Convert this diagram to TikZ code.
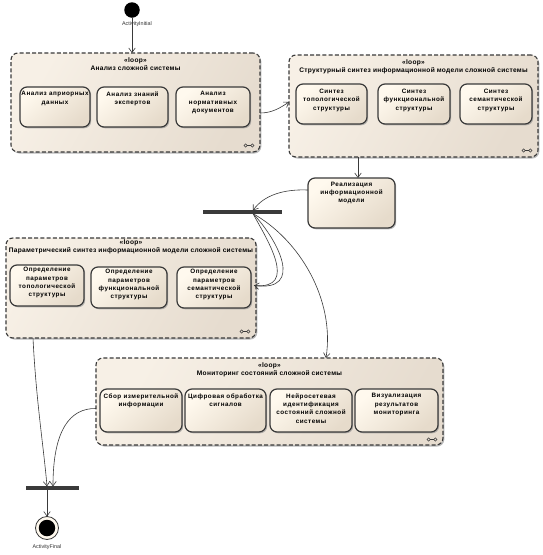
\documentclass[tikz,border=0pt]{standalone}
\usepackage{fontspec}
\setmainfont{Liberation Sans}
\usetikzlibrary{arrows.meta,shadows,calc}
\definecolor{edge}{HTML}{3A3A3A}
\definecolor{loopA}{HTML}{F7F0E6}
\definecolor{loopB}{HTML}{E6DCCF}
\definecolor{boxA}{HTML}{FFF9EE}
\definecolor{boxB}{HTML}{E6DBCB}
\tikzset{
  loopmark/.pic={\draw[edge,line width=0.6pt] (-3.4,0) circle (1.6pt) (3.4,0) circle (1.6pt) (-1.8,0)--(1.8,0);}
}
\begin{document}
\begin{tikzpicture}[x=1pt,y=-1pt,
  every node/.style={inner sep=0pt,outer sep=0pt},
  loopbox/.style={draw=edge, line width=1.1pt, dash pattern=on 4pt off 2.2pt,
     rounded corners=7pt, top color=loopA, bottom color=loopB, shading angle=60,
     drop shadow={shadow xshift=1.3pt,shadow yshift=-1.5pt,fill=black!45,opacity=.6},
     anchor=north west},
  actbox/.style={draw=edge, line width=1.2pt, rounded corners=7pt,
     top color=boxA, bottom color=boxB, shading angle=40,
     drop shadow={shadow xshift=1.2pt,shadow yshift=-1.3pt,fill=black!45,opacity=.6},
     anchor=north west},
  ttl/.style={font=\bfseries\fontsize{6.6}{8.2}\selectfont\addfontfeatures{LetterSpace=4}, align=center, text=black},
  btxt/.style={font=\bfseries\fontsize{6.3}{8.3}\selectfont\addfontfeatures{LetterSpace=8}, align=center, text=black},
  small/.style={font=\fontsize{5.4}{6}\selectfont, text=black!80},
  barnode/.style={fill=edge, minimum height=3.2pt, anchor=west},
  arr/.style={draw=edge, line width=0.6pt, -{Straight Barb[length=4.5pt,width=6.5pt]}},
  plain/.style={draw=edge, line width=0.6pt}
]
\fill[white] (0,0) rectangle (543,555);
\useasboundingbox (0,0) rectangle (543,555);

% initial / final
\node[circle, fill=black, minimum size=15.5pt] (init) at (132,10) {};
\node[small] (initlbl) at (137,24) {ActivityInitial};

% loop 1
\node[loopbox, minimum width=249pt, minimum height=99pt,
  label={[ttl,anchor=north,yshift=-5pt]north:{«loop»\\Анализ сложной системы}}] (L1) at (11,53) {};
\node[actbox, minimum width=70pt, minimum height=40pt,
  label={[btxt,anchor=north,yshift=-4.5pt]north:{Анализ априорных\\данных}}] (A1) at (20,87) {};
\node[actbox, minimum width=71pt, minimum height=40pt,
  label={[btxt,anchor=north,yshift=-4.5pt]north:{Анализ знаний\\экспертов}}] (A2) at (97,87) {};
\node[actbox, minimum width=74pt, minimum height=40pt,
  label={[btxt,anchor=north,yshift=-4.5pt]north:{Анализ\\нормативных\\документов}}] (A3) at (176,87) {};
\pic at ($(L1.south east)+(-11,-6.5)$) {loopmark};

% loop 2
\node[loopbox, minimum width=249pt, minimum height=102pt,
  label={[ttl,anchor=north,yshift=-5pt]north:{«loop»\\Структурный синтез информационной модели сложной системы}}] (L2) at (289,55) {};
\node[actbox, minimum width=71pt, minimum height=40pt,
  label={[btxt,anchor=north,yshift=-5pt]north:{Синтез\\топологической\\структуры}}] (S1) at (296,84) {};
\node[actbox, minimum width=72pt, minimum height=40pt,
  label={[btxt,anchor=north,yshift=-5pt]north:{Синтез\\функциональной\\структуры}}] (S2) at (378,84) {};
\node[actbox, minimum width=72pt, minimum height=40pt,
  label={[btxt,anchor=north,yshift=-5pt]north:{Синтез\\семантической\\структуры}}] (S3) at (460,84) {};
\pic at ($(L2.south east)+(-11,-6.5)$) {loopmark};

% realization
\node[actbox, minimum width=87pt, minimum height=50pt,
  label={[btxt,anchor=north,yshift=-4pt]north:{Реализация\\информационной\\модели}}] (real) at (308,178) {};

% param loop
\node[loopbox, minimum width=250pt, minimum height=100pt,
  label={[ttl,anchor=north,yshift=-2pt]north:{«loop»\\Параметрический синтез информационной модели сложной системы}}] (Pl) at (6,238) {};
\node[actbox, minimum width=74pt, minimum height=41pt,
  label={[btxt,anchor=north,yshift=-2.5pt]north:{Определение\\параметров\\топологической\\структуры}}] (P1) at (10,265) {};
\node[actbox, minimum width=76pt, minimum height=41pt,
  label={[btxt,anchor=north,yshift=-2.5pt]north:{Определение\\параметров\\функциональной\\структуры}}] (P2) at (91,267) {};
\node[actbox, minimum width=74pt, minimum height=41pt,
  label={[btxt,anchor=north,yshift=-2.5pt]north:{Определение\\параметров\\семантической\\структуры}}] (P3) at (177,267) {};
\pic at ($(Pl.south east)+(-11,-6.5)$) {loopmark};

% monitoring loop
\node[loopbox, minimum width=347pt, minimum height=87pt,
  label={[ttl,anchor=north,yshift=-5pt]north:{«loop»\\Мониторинг состояний сложной системы}}] (Mon) at (96,358) {};
\node[actbox, minimum width=82pt, minimum height=43pt,
  label={[btxt,anchor=north,yshift=-4.5pt]north:{Сбор измерительной\\информации}}] (M1) at (100,389) {};
\node[actbox, minimum width=81pt, minimum height=43pt,
  label={[btxt,anchor=north,yshift=-4.5pt]north:{Цифровая обработка\\сигналов}}] (M2) at (185,389) {};
\node[actbox, minimum width=82pt, minimum height=43pt,
  label={[btxt,anchor=north,yshift=-4.5pt]north:{Нейросетевая\\идентификация\\состояний сложной\\системы}}] (M3) at (270,389) {};
\node[actbox, minimum width=83pt, minimum height=43pt,
  label={[btxt,anchor=north,yshift=-4.5pt]north:{Визуализация\\результатов\\мониторинга}}] (M4) at (355,389) {};
\pic at ($(Mon.south east)+(-11,-5.5)$) {loopmark};

% bars
\node[barnode, minimum width=79pt] (fork) at (203,212) {};
\node[barnode, minimum width=53pt] (join) at (26,488) {};

% final
\node[circle, draw=edge, line width=0.8pt, fill=boxA, minimum size=23pt] (fin) at (47,528) {};
\node[circle, fill=black, minimum size=16.5pt] (fincore) at (fin) {};
\node[small] (finlbl) at (47,547) {ActivityFinal};

% helper coordinates on node borders
\coordinate (fktop) at ($(fork.north west)+(50,0)$);
\coordinate (fkbot) at ($(fork.south west)+(50,0)$);
\coordinate (p3in) at ($(P3.east)+(3,-2)$);
\coordinate (mtip) at ($(Mon.north west)+(230,0)$);
\coordinate (rin) at ($(real.north west)+(50,0)$);
\coordinate (jA) at ($(join.north west)+(21,0)$);
\coordinate (jB) at ($(join.north west)+(27,0)$);

% connectors
\draw[arr] (init.south) -- (init.south |- L1.north);
\draw[arr] ($(L1.east)+(0,10.5)$) .. controls (272,113) and (280,108) .. ($(L2.west)+(0,-4)$);
\draw[arr] (rin |- L2.south) -- (rin);
\draw[arr] ($(real.north west)+(0,12)$) .. controls (284,189) and (264,195) .. (fktop);
\draw[plain] (fkbot) .. controls (266,238) and (300,290) .. (p3in);
\draw[arr] (fkbot) .. controls (278,240) and (305,292) .. (p3in);
\draw[arr] (fkbot) .. controls (300,240) and (335,300) .. (mtip);
\draw[arr] ($(Pl.south west)+(27,0)$) .. controls (36,400) and (44,450) .. (jA);
\draw[arr] ($(Mon.west)+(0,7)$) .. controls (70,408) and (53,430) .. (jB);
\draw[arr] (fin.north |- join.south) -- (fin.north);
\end{tikzpicture}
\end{document}
